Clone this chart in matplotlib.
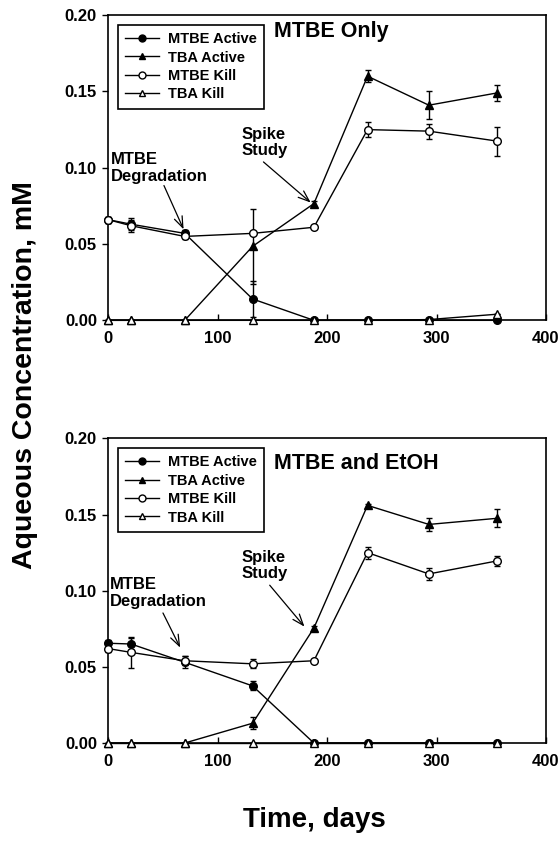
import matplotlib
matplotlib.use("Agg")
import matplotlib.pyplot as plt
from matplotlib.lines import Line2D

plt.rcParams['font.family'] = ['Liberation Sans', 'DejaVu Sans']
plt.rcParams['font.weight'] = 'bold'

days = [0, 21, 70, 132, 188, 237, 293, 355]

# panel 1: MTBE only
mtbe_active_1 = [0.066, 0.063, 0.057, 0.014, 0.0, 0.0, 0.0, 0.0]
mtbe_active_err_1 = [0.002, 0.004, 0.002, 0.012, 0, 0, 0, 0]
tba_active_1 = [0.0, 0.0, 0.0, 0.0485, 0.0765, 0.160, 0.141, 0.149]
tba_active_err_1 = [0, 0, 0, 0.0245, 0.002, 0.004, 0.009, 0.0055]
mtbe_kill_1 = [0.066, 0.062, 0.055, 0.057, 0.061, 0.125, 0.124, 0.1175]
mtbe_kill_err_1 = [0.002, 0.004, 0.002, 0, 0, 0.005, 0.005, 0.0095]
tba_kill_1 = [0.0, 0.0, 0.0, 0.0, 0.0, 0.0, 0.0005, 0.004]
tba_kill_err_1 = [0, 0, 0, 0, 0, 0, 0, 0]

# panel 2: MTBE and EtOH
mtbe_active_2 = [0.0655, 0.065, 0.053, 0.0375, 0.0, 0.0, 0.0, 0.0]
mtbe_active_err_2 = [0.002, 0.004, 0.004, 0.003, 0, 0, 0, 0]
tba_active_2 = [0.0, 0.0, 0.0, 0.013, 0.0755, 0.156, 0.1435, 0.1475]
tba_active_err_2 = [0, 0, 0, 0.004, 0.001, 0.001, 0.004, 0.006]
mtbe_kill_2 = [0.062, 0.0595, 0.054, 0.052, 0.054, 0.125, 0.111, 0.1195]
mtbe_kill_err_2 = [0.002, 0.01, 0.003, 0.003, 0, 0.004, 0.004, 0.003]
tba_kill_2 = [0.0, 0.0, 0.0, 0.0, 0.0, 0.0, 0.0, 0.0]
tba_kill_err_2 = [0, 0, 0, 0, 0, 0, 0, 0]

labels = ['MTBE Active', 'TBA Active', 'MTBE Kill', 'TBA Kill']
markers = ['o', '^', 'o', '^']
fills = ['black', 'black', 'white', 'white']

xticks = [0, 100, 200, 300, 400]
yticks = [0.00, 0.05, 0.10, 0.15, 0.20]

fig = plt.figure(figsize=(5.6, 8.43), dpi=100)
ax1 = fig.add_axes([0.193, 0.620, 0.782, 0.362])
ax2 = fig.add_axes([0.193, 0.1186, 0.782, 0.3614])


def draw_panel(ax, series, errs, title, title_pos, degr_text, degr_arrow, spike_text, spike_arrow):
    handles = []
    for vals, err, lab, m, fc in zip(series, errs, labels, markers, fills):
        ax.errorbar(days, vals, yerr=err, color='black', lw=1.0, marker=m, ms=5.5,
                    mfc=fc, mec='black', mew=1.0, capsize=2.5, elinewidth=1.0,
                    clip_on=False, zorder=3)
        handles.append(Line2D([], [], color='black', lw=1.0, marker=m, ms=5,
                              mfc=fc, mec='black', mew=1.0, label=lab))
    ax.set_xlim(0, 400)
    ax.set_ylim(0, 0.20)
    ax.set_xticks(xticks)
    ax.set_yticks(yticks)
    ax.set_yticklabels(['%.2f' % v for v in yticks])
    ax.tick_params(axis='both', labelsize=12, length=4, width=1, pad=4)
    ax.tick_params(axis='x', direction='in', pad=8)
    for sp in ax.spines.values():
        sp.set_linewidth(1.2)
    leg = ax.legend(handles=handles, loc='upper left', bbox_to_anchor=(0.006, 0.992), fontsize=10.5,
                    frameon=True, fancybox=False, framealpha=1, edgecolor='black',
                    handlelength=2.3, handletextpad=0.6, borderpad=0.5, labelspacing=0.3)
    leg.get_frame().set_linewidth(1.2)
    for t in leg.get_texts():
        t.set_fontweight('bold')
    ax.text(title_pos[0], title_pos[1], title, fontsize=15.5, fontweight='bold', va='center', ha='left')
    ax.text(degr_text[0], degr_text[1], 'MTBE\nDegradation', fontsize=12, fontweight='bold',
            va='top', ha='left', linespacing=1.15)
    ax.annotate('', xy=degr_arrow[1], xytext=degr_arrow[0],
                arrowprops=dict(arrowstyle='->,head_length=0.8,head_width=0.3', color='black', lw=0.9))
    ax.text(spike_text[0], spike_text[1], 'Spike\nStudy', fontsize=12, fontweight='bold',
            va='top', ha='left', linespacing=1.15)
    ax.annotate('', xy=spike_arrow[1], xytext=spike_arrow[0],
                arrowprops=dict(arrowstyle='->,head_length=0.8,head_width=0.3', color='black', lw=0.9))


draw_panel(ax1, [mtbe_active_1, tba_active_1, mtbe_kill_1, tba_kill_1],
           [mtbe_active_err_1, tba_active_err_1, mtbe_kill_err_1, tba_kill_err_1],
           'MTBE Only', (152, 0.189),
           (3, 0.110), ((50, 0.090), (70, 0.058)),
           (122, 0.127), ((140, 0.105), (187, 0.076)))

draw_panel(ax2, [mtbe_active_2, tba_active_2, mtbe_kill_2, tba_kill_2],
           [mtbe_active_err_2, tba_active_err_2, mtbe_kill_err_2, tba_kill_err_2],
           'MTBE and EtOH', (152, 0.1836),
           (2, 0.109), ((49, 0.087), (67, 0.061)),
           (122, 0.127), ((146, 0.105), (181, 0.075)))

fig.text(0.044, 0.555, 'Aqueous Concentration, mM', rotation=90, fontsize=20.5,
         fontweight='bold', va='center', ha='center')
fig.text(0.561, 0.027, 'Time, days', fontsize=20, fontweight='bold', va='center', ha='center')

fig.savefig('out.png', dpi=100)
